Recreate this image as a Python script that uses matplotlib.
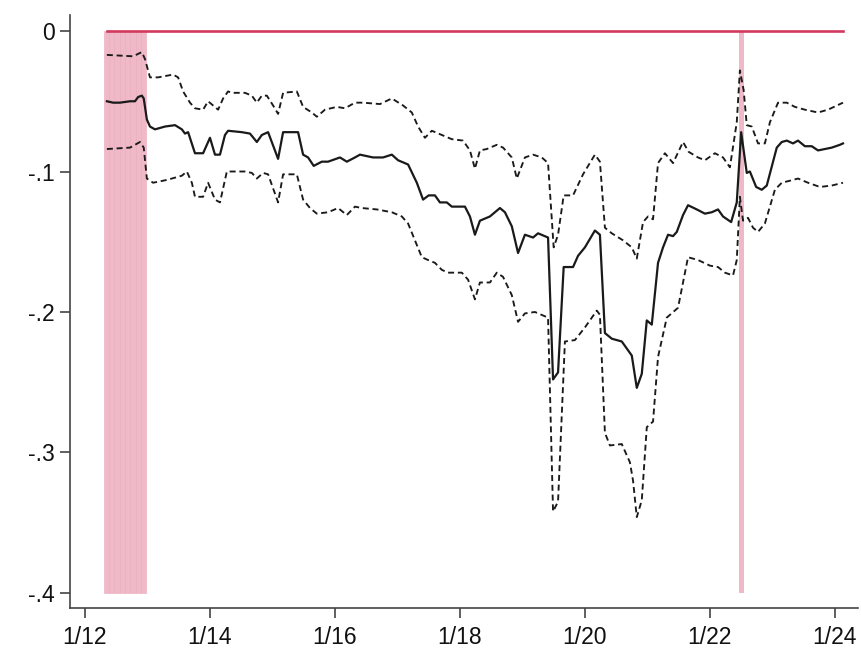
import numpy as np
import matplotlib
matplotlib.use("Agg")
import matplotlib.pyplot as plt

plt.rcParams["font.family"] = ["Liberation Sans", "DejaVu Sans"]

# point estimate (day of January, coefficient)
est_day = [12.35, 12.45, 12.56, 12.72, 12.80, 12.85, 12.91, 12.94, 12.99, 13.04,
           13.12, 13.28, 13.44, 13.55, 13.60, 13.65, 13.76, 13.89, 14.00, 14.08,
           14.16, 14.24, 14.29, 14.51, 14.64, 14.75, 14.83, 14.93, 15.09, 15.17,
           15.41, 15.49, 15.57, 15.66, 15.79, 15.89, 16.08, 16.19, 16.32, 16.40,
           16.61, 16.77, 16.91, 17.01, 17.17, 17.31, 17.41, 17.50, 17.60, 17.68,
           17.79, 17.87, 18.08, 18.16, 18.24, 18.32, 18.48, 18.64, 18.72, 18.83,
           18.93, 19.04, 19.17, 19.25, 19.41, 19.49, 19.57, 19.66, 19.81, 19.89,
           20.00, 20.16, 20.24, 20.32, 20.43, 20.59, 20.67, 20.75, 20.83, 20.91,
           20.99, 21.07, 21.17, 21.25, 21.33, 21.41, 21.47, 21.57, 21.65, 21.79,
           21.92, 22.03, 22.13, 22.21, 22.34, 22.43, 22.50, 22.59, 22.64, 22.74,
           22.83, 22.91, 23.07, 23.15, 23.23, 23.33, 23.41, 23.52, 23.63, 23.73,
           23.84, 23.95, 24.08, 24.13]
est_val = [-0.050, -0.051, -0.051, -0.050, -0.050, -0.047, -0.046, -0.048, -0.063, -0.068,
           -0.070, -0.068, -0.067, -0.070, -0.073, -0.072, -0.087, -0.087, -0.076, -0.088,
           -0.088, -0.074, -0.071, -0.072, -0.073, -0.079, -0.074, -0.072, -0.091, -0.072,
           -0.072, -0.088, -0.090, -0.096, -0.093, -0.093, -0.090, -0.093, -0.090, -0.088,
           -0.090, -0.090, -0.088, -0.092, -0.095, -0.108, -0.120, -0.117, -0.117, -0.122,
           -0.122, -0.125, -0.125, -0.132, -0.145, -0.135, -0.132, -0.126, -0.129, -0.139,
           -0.158, -0.145, -0.147, -0.144, -0.147, -0.248, -0.243, -0.168, -0.168, -0.160,
           -0.154, -0.142, -0.145, -0.215, -0.219, -0.221, -0.226, -0.231, -0.254, -0.244,
           -0.206, -0.209, -0.165, -0.154, -0.145, -0.146, -0.143, -0.131, -0.124, -0.127,
           -0.130, -0.129, -0.127, -0.132, -0.136, -0.122, -0.072, -0.101, -0.100, -0.111,
           -0.113, -0.110, -0.083, -0.079, -0.078, -0.080, -0.078, -0.082, -0.082, -0.085,
           -0.084, -0.083, -0.081, -0.080]

# upper confidence bound
hi_day = [12.35, 12.77, 12.91, 12.96, 13.04, 13.17, 13.41, 13.49, 13.57, 13.68,
          13.76, 13.89, 13.97, 14.05, 14.13, 14.21, 14.29, 14.35, 14.56, 14.67,
          14.75, 14.83, 14.91, 15.01, 15.09, 15.17, 15.39, 15.49, 15.63, 15.71,
          15.84, 16.03, 16.16, 16.32, 16.45, 16.72, 16.91, 17.09, 17.23, 17.33,
          17.44, 17.55, 17.71, 17.87, 18.05, 18.16, 18.24, 18.32, 18.43, 18.59,
          18.69, 18.83, 18.91, 19.04, 19.17, 19.31, 19.41, 19.50, 19.57, 19.66,
          19.81, 19.97, 20.16, 20.24, 20.32, 20.43, 20.61, 20.75, 20.83, 20.93,
          21.01, 21.09, 21.17, 21.28, 21.41, 21.57, 21.66, 21.81, 21.92, 22.08,
          22.21, 22.32, 22.43, 22.48, 22.54, 22.59, 22.67, 22.77, 22.88, 22.96,
          23.09, 23.23, 23.36, 23.52, 23.73, 23.89, 24.13]
hi_val = [-0.017, -0.018, -0.015, -0.020, -0.033, -0.033, -0.031, -0.033, -0.043, -0.051,
          -0.055, -0.056, -0.050, -0.053, -0.056, -0.048, -0.043, -0.044, -0.044, -0.046,
          -0.051, -0.046, -0.046, -0.053, -0.059, -0.044, -0.043, -0.054, -0.058, -0.061,
          -0.056, -0.054, -0.055, -0.051, -0.051, -0.052, -0.048, -0.053, -0.058, -0.068,
          -0.076, -0.071, -0.074, -0.077, -0.078, -0.085, -0.098, -0.085, -0.084, -0.081,
          -0.083, -0.090, -0.105, -0.090, -0.088, -0.090, -0.094, -0.154, -0.145, -0.117,
          -0.117, -0.102, -0.088, -0.093, -0.140, -0.144, -0.149, -0.154, -0.162, -0.136,
          -0.132, -0.134, -0.094, -0.087, -0.094, -0.079, -0.086, -0.090, -0.092, -0.087,
          -0.090, -0.097, -0.065, -0.028, -0.042, -0.067, -0.068, -0.080, -0.080, -0.065,
          -0.051, -0.051, -0.054, -0.056, -0.058, -0.056, -0.051]

# lower confidence bound
lo_day = [12.35, 12.72, 12.88, 12.94, 12.99, 13.09, 13.31, 13.55, 13.63, 13.71,
          13.76, 13.89, 13.97, 14.08, 14.16, 14.27, 14.35, 14.56, 14.67, 14.75,
          14.85, 14.93, 15.01, 15.09, 15.17, 15.39, 15.49, 15.60, 15.71, 15.89,
          16.05, 16.19, 16.32, 16.43, 16.67, 16.91, 17.07, 17.17, 17.28, 17.39,
          17.49, 17.60, 17.71, 17.81, 18.03, 18.13, 18.24, 18.32, 18.48, 18.59,
          18.69, 18.83, 18.93, 19.04, 19.20, 19.41, 19.49, 19.57, 19.68, 19.84,
          20.00, 20.19, 20.24, 20.32, 20.40, 20.59, 20.72, 20.77, 20.83, 20.91,
          20.99, 21.09, 21.17, 21.31, 21.49, 21.65, 21.81, 22.00, 22.13, 22.24,
          22.37, 22.43, 22.48, 22.53, 22.61, 22.69, 22.77, 22.88, 23.04, 23.15,
          23.33, 23.41, 23.57, 23.76, 23.95, 24.13]
lo_val = [-0.084, -0.083, -0.079, -0.083, -0.105, -0.108, -0.106, -0.103, -0.100, -0.108,
          -0.118, -0.118, -0.108, -0.120, -0.122, -0.100, -0.100, -0.100, -0.101, -0.105,
          -0.101, -0.102, -0.112, -0.122, -0.102, -0.102, -0.120, -0.126, -0.130, -0.129,
          -0.126, -0.131, -0.125, -0.126, -0.127, -0.129, -0.132, -0.137, -0.149, -0.161,
          -0.163, -0.165, -0.170, -0.172, -0.172, -0.177, -0.191, -0.179, -0.179, -0.172,
          -0.175, -0.188, -0.207, -0.201, -0.200, -0.204, -0.342, -0.335, -0.221, -0.220,
          -0.211, -0.199, -0.202, -0.286, -0.295, -0.294, -0.307, -0.320, -0.346, -0.334,
          -0.282, -0.278, -0.232, -0.204, -0.197, -0.161, -0.163, -0.167, -0.168, -0.172,
          -0.174, -0.163, -0.118, -0.135, -0.133, -0.140, -0.143, -0.137, -0.113, -0.108,
          -0.106, -0.105, -0.108, -0.111, -0.110, -0.108]

# shaded windows (start day, end day)
windows = [(12.30, 12.98), (22.46, 22.54)]
window_n = [8, 1]

x_ticks = [12, 14, 16, 18, 20, 22, 24]
x_labels = ["1/12", "1/14", "1/16", "1/18", "1/20", "1/22", "1/24"]
y_ticks = [0, -0.1, -0.2, -0.3, -0.4]
y_labels = ["0", "-.1", "-.2", "-.3", "-.4"]

fig = plt.figure(figsize=(8.61, 6.52), dpi=100)
ax = fig.add_axes([70 / 861, 1 - 608 / 652, 788 / 861, 593 / 652])

pink = "#f0b9c8"
for (a, b), n in zip(windows, window_n):
    edges = np.linspace(a, b, n + 1)
    ax.bar(edges[:-1], -0.4, width=np.diff(edges), align="edge", bottom=0,
           color=pink, edgecolor="#eaaabd", linewidth=0.4 if n > 1 else 0,
           zorder=1)

ax.plot([est_day[0], est_day[-1]], [0, 0], color="#d2395f", lw=1.9, zorder=2)

dash = (3.2, 2.0)
ax.plot(hi_day, hi_val, color="#1a1a1a", lw=1.35, dashes=dash, zorder=3)
ax.plot(lo_day, lo_val, color="#1a1a1a", lw=1.35, dashes=dash, zorder=3)
ax.plot(est_day, est_val, color="#1a1a1a", lw=1.6, zorder=4)

ax.set_xlim(11.76, 24.37)
ax.set_ylim(-0.4107, 0.0114)
ax.set_xticks(x_ticks)
ax.set_xticklabels(x_labels)
ax.set_yticks(y_ticks)
ax.set_yticklabels(y_labels)

for side in ("top", "right"):
    ax.spines[side].set_visible(False)
for side in ("left", "bottom"):
    ax.spines[side].set_color("#444444")
    ax.spines[side].set_linewidth(1.2)
ax.tick_params(axis="both", colors="#444444", labelcolor="#111111",
               labelsize=16.5, width=1.2)
ax.tick_params(axis="y", length=7, pad=4)
ax.tick_params(axis="x", length=7, pad=6)

fig.savefig("out.png", dpi=100)
